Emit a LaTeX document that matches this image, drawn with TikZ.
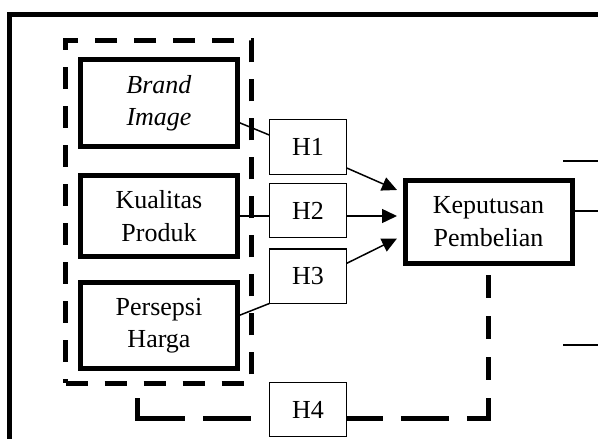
\documentclass[tikz,border=0pt]{standalone}
\usepackage{fontspec}
\setmainfont{Liberation Serif}
\usetikzlibrary{arrows.meta}
\begin{document}
\begin{tikzpicture}[x=1pt, y=-1pt,
		every node/.style={font=\fontsize{26}{32.5}\selectfont, align=center, inner sep=0pt, outer sep=0pt},
		varbox/.style={draw, line width=5pt, minimum width=157.5pt},
		hbox/.style={draw, line width=1.2pt, minimum width=77.5pt, minimum height=54.5pt},
		link/.style={line width=1.5pt},
		arr/.style={line width=1.5pt, -{Triangle[length=15pt, width=14pt]}},
		dashv/.style={line width=5pt, dash pattern=on 23pt off 18pt},
		dashh/.style={line width=5pt, dash pattern=on 48pt off 18pt}]
		
		\useasboundingbox (0, 0) rectangle (598, 439);
		\clip (0, 0) rectangle (598, 439);
		
		\draw [line width=5pt] (9.5, 14.5) rectangle (640, 480);
		
		\node [draw, line width=5pt, dash pattern=on 22pt off 17pt, minimum width=186pt, minimum height=342.5pt] (grp) at (158.5, 212) {};
		
		\node [varbox, minimum height=87pt] (bi) at (159, 103) {\textit{Brand}\\\textit{Image}};
		\node [varbox, minimum height=81.5pt] (kq) at (159, 216) {Kualitas\\Produk};
		\node [varbox, minimum height=86pt] (ph) at (159, 325.5) {Persepsi\\Harga};
		\node [draw, line width=5pt, minimum width=167pt, minimum height=83pt] (kp) at (488.5, 221.5) {Keputusan\\Pembelian};
		
		\node [hbox] (h1) at (308, 147) {H1};
		\node [hbox] (h2) at (308, 210.5) {H2};
		\node [hbox] (h3) at (308, 276.3) {H3};
		\node [hbox] (h4) at (308, 409.5) {H4};
		
		\draw [link] ([yshift=-19pt]bi.east) -- ([yshift=12pt]h1.west);
		\draw [link] (kq.east) -- (kq.east -| h2.west);
		\draw [link] ([yshift=9.5pt]ph.east) -- (h3.south west);
		
		\draw [arr] ([yshift=-21pt]h1.east) -- ([xshift=-8pt, yshift=31.5pt]kp.west);
		\draw [arr, shorten >=8pt] (kq -| h2.east) -- (kq -| kp.west);
		\draw [arr] ([yshift=13pt]h3.east) -- ([xshift=-8pt, yshift=-17pt]kp.west);
		
		% H4 path
		\coordinate (rc) at (488.5, 418);
		\coordinate (lc) at (137, 418);
		\coordinate (gf) at (137, 393);
		\draw [dashv] ([yshift=-2.5pt]rc) -- (kp.south);
		\draw [dashh, dash phase=12pt] (rc -| h4.east) -- (rc);
		\draw [dashh] (lc) -- (lc -| h4.west);
		\draw [dashv] ([yshift=-2.5pt]lc) -- (gf);
		
		% cut-off lines on the right
		\coordinate (s1) at (563, 161);
		\coordinate (s1r) at (600, 161);
		\coordinate (s2r) at (600, 211);
		\coordinate (s3) at (563, 345);
		\coordinate (s3r) at (600, 345);
		\draw [link] (s1) -- (s1r);
		\draw [link] (kp.east |- s2r) -- (s2r);
		\draw [link] (s3) -- (s3r);
		
	\end{tikzpicture}
\end{document}
